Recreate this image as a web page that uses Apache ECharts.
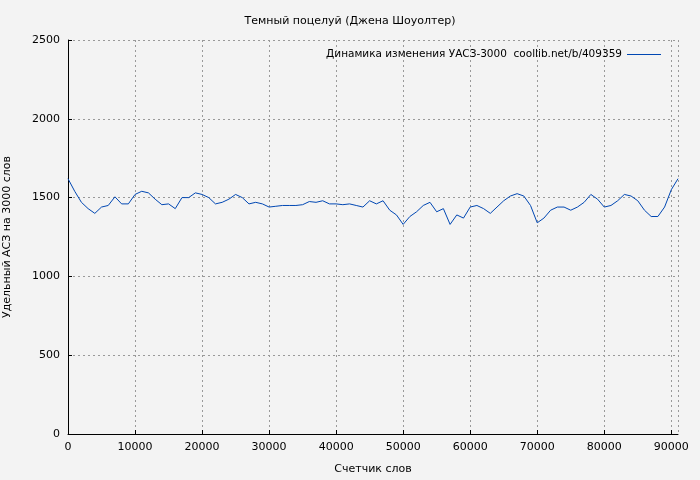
<!DOCTYPE html><html><head><meta charset="utf-8"><script src="https://cdn.jsdelivr.net/npm/echarts@6/dist/echarts.min.js"></script></head><body style="margin:0;background:#f3f3f3"><div id="c" style="width:700px;height:480px"></div><script>
const values=[1620,1540,1470,1430,1400,1440,1450,1505,1460,1460,1520,1540,1530,1490,1455,1460,1430,1500,1500,1530,1520,1500,1460,1470,1490,1520,1500,1460,1470,1460,1440,1445,1450,1450,1450,1455,1475,1470,1480,1460,1460,1455,1460,1450,1440,1480,1460,1480,1420,1390,1330,1380,1410,1450,1470,1410,1430,1330,1390,1370,1440,1450,1430,1400,1440,1480,1510,1525,1510,1450,1340,1370,1420,1440,1440,1420,1440,1470,1520,1490,1440,1450,1480,1520,1510,1480,1420,1380,1380,1440,1550,1620];
const step=1000;
const data=values.map((v,i)=>[i*step,v]);
const font='DejaVu Sans';
const fmt=v=>String(v);
const c=echarts.init(document.getElementById('c'));
c.setOption({backgroundColor:'#f3f3f3',animation:false,textStyle:{fontFamily:font},
title:{text:'Темный поцелуй (Джена Шоуолтер)',left:'center',top:11,textStyle:{fontSize:11,fontWeight:'normal',color:'#000',fontFamily:font}},
legend:{right:34,top:44,itemWidth:34,itemHeight:1,itemGap:10,align:'right',icon:'rect',textStyle:{fontSize:10.5,color:'#000',fontFamily:font},data:['Динамика изменения УАСЗ-3000  coollib.net/b/409359']},
grid:{left:68,right:22,top:40,bottom:46,outerBoundsMode:'none',containLabel:false},
xAxis:{type:'value',min:0,max:91000,interval:10000,name:'Счетчик слов',nameLocation:'middle',nameGap:30,nameTextStyle:{fontSize:11,color:'#000'},
axisLine:{lineStyle:{color:'#000'}},axisTick:{inside:true,length:4,lineStyle:{color:'#000'}},axisLabel:{showMaxLabel:false,fontSize:11,color:'#000',formatter:fmt},
splitLine:{lineStyle:{type:[2,3],color:'#999'}}},
yAxis:{type:'value',min:0,max:2500,interval:500,name:'Удельный АСЗ на 3000 слов',nameLocation:'middle',nameGap:55,nameTextStyle:{fontSize:11,color:'#000'},
axisLine:{show:true,lineStyle:{color:'#000'}},axisTick:{show:true,inside:true,length:4,lineStyle:{color:'#000'}},axisLabel:{fontSize:11,color:'#000',formatter:fmt},
splitLine:{lineStyle:{type:[2,3],color:'#999'}}},
series:[{name:'Динамика изменения УАСЗ-3000  coollib.net/b/409359',type:'line',data:data,showSymbol:false,lineStyle:{width:1,color:'#0047b3'},itemStyle:{color:'#0047b3'}}]
});
</script></body></html>
